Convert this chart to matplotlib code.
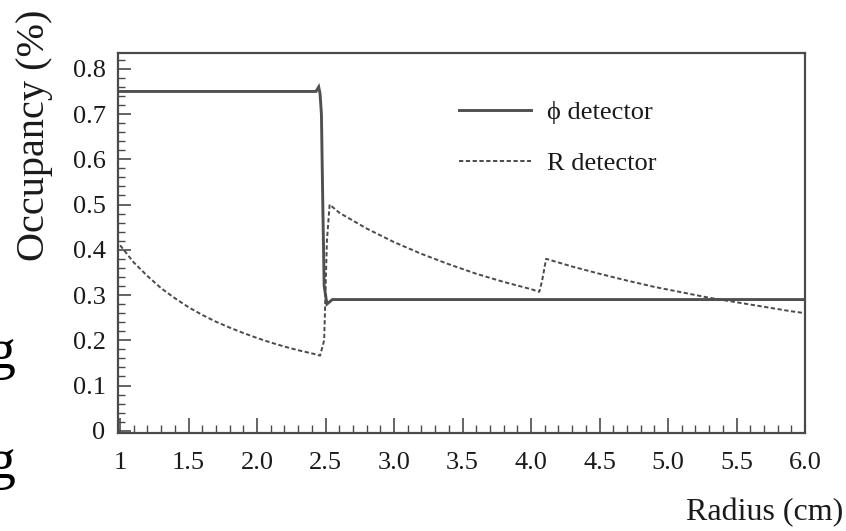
import matplotlib
matplotlib.use("Agg")
import matplotlib.pyplot as plt
from matplotlib.ticker import MultipleLocator, FixedLocator

plt.rcParams['font.family'] = ['Liberation Serif', 'DejaVu Serif']

# phi detector (solid)
phi_r = [1.0, 2.43, 2.45, 2.46, 2.47, 2.48, 2.49, 2.51, 2.55, 6.0]
phi_occ = [0.75, 0.75, 0.76, 0.745, 0.70, 0.50, 0.32, 0.28, 0.29, 0.29]

# R detector (dashed)
r_r = [1.0, 1.1, 1.2, 1.3, 1.4, 1.5, 1.6, 1.7, 1.8, 1.9, 2.0, 2.1, 2.2, 2.3, 2.4, 2.46,
       2.49, 2.51, 2.53, 2.6, 2.8, 3.0, 3.2, 3.4, 3.6, 3.8, 4.0, 4.06,
       4.08, 4.11, 4.3, 4.5, 4.7, 4.9, 5.1, 5.3, 5.5, 5.7, 5.9, 6.0]
r_occ = [0.41, 0.372, 0.342, 0.315, 0.293, 0.273, 0.256, 0.241, 0.228, 0.216, 0.205, 0.195,
         0.186, 0.178, 0.171, 0.166,
         0.20, 0.42, 0.50, 0.482, 0.447, 0.417, 0.391, 0.368, 0.347, 0.329, 0.313, 0.307,
         0.33, 0.38, 0.363, 0.347, 0.332, 0.318, 0.306, 0.294, 0.284, 0.274, 0.264, 0.26]

x_ticks = [1.0, 1.5, 2.0, 2.5, 3.0, 3.5, 4.0, 4.5, 5.0, 5.5, 6.0]
x_labels = ['1', '1.5', '2.0', '2.5', '3.0', '3.5', '4.0', '4.5', '5.0', '5.5', '6.0']
y_ticks = [0, 0.1, 0.2, 0.3, 0.4, 0.5, 0.6, 0.7, 0.8]
y_labels = ['0', '0.1', '0.2', '0.3', '0.4', '0.5', '0.6', '0.7', '0.8']

fig = plt.figure(figsize=(8.46, 5.31), dpi=100)
ax = fig.add_axes([118/846, 1-433/531, 687/846, 380/531])

frame_c = '#4a4a4a'
ax.plot(phi_r, phi_occ, color='#505050', lw=2.1, label='\u03d5 detector', solid_joinstyle='miter')
ax.plot(r_r, r_occ, color='#4a4a4a', lw=1.4, linestyle=(0, (2.2, 1.3)), label='R detector')

ax.set_xlim(0.985, 6.0)
ax.set_ylim(-0.005, 0.835)
ax.xaxis.set_major_locator(FixedLocator(x_ticks))
ax.set_xticklabels(x_labels)
ax.yaxis.set_major_locator(FixedLocator(y_ticks))
ax.set_yticklabels(y_labels)
ax.xaxis.set_minor_locator(MultipleLocator(0.1))
ax.yaxis.set_minor_locator(MultipleLocator(0.02))

ax.tick_params(which='both', direction='in', top=False, right=False, colors=frame_c,
               labelcolor='#1a1a1a', labelsize=19)
ax.tick_params(axis='x', which='major', length=11, width=1.2, pad=14)
ax.tick_params(axis='x', which='minor', length=6, width=1.0)
ax.tick_params(axis='y', which='major', length=9, width=1.2, pad=9)
ax.tick_params(axis='y', which='minor', length=5, width=1.0)

for s in ax.spines.values():
    s.set_color(frame_c)
    s.set_linewidth(1.6)

leg = ax.legend(loc='upper left', bbox_to_anchor=(0.497, 0.875), frameon=False,
                fontsize=19, handlelength=2.7, handletextpad=0.6, labelspacing=1.05,
                borderpad=0, borderaxespad=0)
for t in leg.get_texts():
    t.set_color('#1a1a1a')

fig.text(35/846, 1-135/531, 'Occupancy (%)', rotation=90, ha='center', va='center',
         fontsize=29, color='#1a1a1a')
fig.text(843/846, 1-513/531, 'Radius (cm)', ha='right', va='center', fontsize=23,
         color='#1a1a1a')

# cut-off slide letters at the left edge (partly outside the picture, as in the source)
fig.text(15/846, 1-368/531, 'g', ha='right', va='baseline', fontsize=40, color='black')
fig.text(15/846, 1-478/531, 'g', ha='right', va='baseline', fontsize=40, color='black')

fig.savefig('out.png', dpi=100)
